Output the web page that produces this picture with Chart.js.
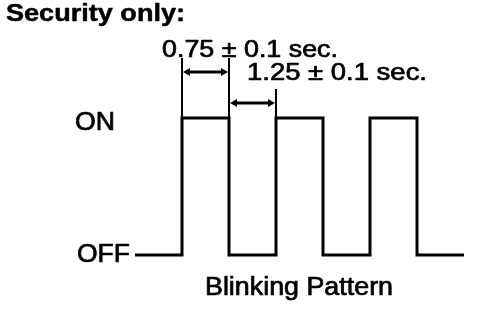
<!DOCTYPE html>
<html>
<head>
<meta charset="utf-8">
<script src="https://cdn.jsdelivr.net/npm/chart.js@4"></script>
<style>
  html, body { margin: 0; padding: 0; background: #fff; }
  #wrap { width: 496px; height: 332px; position: relative; }
</style>
</head>
<body>
<div id="wrap"><canvas id="c"></canvas></div>
<script>
// ---- data ----
const titleText = 'Security only:';
const patternLabel = 'Blinking Pattern';
const stateLabels = ['OFF', 'ON'];
const times = [-1, 0, 1, 2, 3, 4, 5, 6];      // transition instants (diagram units)
const states = [0, 1, 0, 1, 0, 1, 0, 0];       // 0 = OFF, 1 = ON
const dimLabels = ['0.75 \u00b1 0.1 sec.', '1.25 \u00b1 0.1 sec.'];
const dimStart = [0, 1];
const dimEnd = [1, 2];

// ---- drawing helpers ----
function fitText(ctx, text, x, y, w, font, weight) {
  ctx.save();
  ctx.font = font;
  const m = ctx.measureText(text).width;
  ctx.translate(x, y);
  ctx.scale(w / m, 1);
  ctx.textAlign = 'left';
  ctx.textBaseline = 'alphabetic';
  ctx.fillStyle = '#000';
  ctx.strokeStyle = '#000';
  ctx.lineWidth = weight;
  ctx.lineJoin = 'round';
  ctx.fillText(text, 0, 0);
  if (weight > 0) ctx.strokeText(text, 0, 0);
  ctx.restore();
}

function arrowHead(ctx, x, y, dir) {
  const L = 7, H = 4;
  ctx.beginPath();
  ctx.moveTo(x, y);
  ctx.lineTo(x - dir * L, y - H);
  ctx.lineTo(x - dir * L, y + H);
  ctx.closePath();
  ctx.fill();
}

const annot = {
  id: 'annot',
  afterDatasetsDraw(chart) {
    const ctx = chart.ctx;
    const xs = chart.scales.x, ys = chart.scales.y;
    const onY = ys.getPixelForValue(1);
    const arrowYs = [72, 103];
    const extAbove = 14;
    const textPos = [{x: 162, y: 57, w: 176}, {x: 247, y: 80, w: 180}];
    const reg = '24px "Liberation Sans", Arial, sans-serif';
    const reg25 = '25px "Liberation Sans", Arial, sans-serif';
    ctx.save();
    ctx.strokeStyle = '#000';
    ctx.fillStyle = '#000';
    ctx.lineCap = 'butt';
    for (let i = 0; i < dimLabels.length; i++) {
      const x0 = xs.getPixelForValue(dimStart[i]);
      const x1 = xs.getPixelForValue(dimEnd[i]);
      const ay = arrowYs[i];
      // extension lines
      ctx.lineWidth = 2;
      ctx.beginPath();
      ctx.moveTo(x0, onY); ctx.lineTo(x0, ay - extAbove);
      ctx.moveTo(x1, onY); ctx.lineTo(x1, ay - extAbove);
      ctx.stroke();
      // dimension arrow
      ctx.lineWidth = 3;
      ctx.beginPath();
      ctx.moveTo(x0 + 5, ay); ctx.lineTo(x1 - 5, ay);
      ctx.stroke();
      arrowHead(ctx, x0 + 1, ay, -1);
      arrowHead(ctx, x1 - 1, ay, 1);
      fitText(ctx, dimLabels[i], textPos[i].x, textPos[i].y, textPos[i].w, reg, 0.7);
    }
    // state labels
    fitText(ctx, stateLabels[1], 75, 130, 40, reg25, 0.7);
    fitText(ctx, stateLabels[0], 77, 262, 53, reg25, 0.7);
    // title & caption
    fitText(ctx, titleText, 6, 21, 179, 'bold 24px "Liberation Sans", Arial, sans-serif', 0.5);
    fitText(ctx, patternLabel, 205, 295, 188, reg25, 0.7);
    ctx.restore();
  }
};

new Chart(document.getElementById('c'), {
  type: 'line',
  data: {
    datasets: [{
      data: times.map((t, i) => ({x: t, y: states[i]})),
      stepped: true,
      borderColor: '#000',
      borderWidth: 3,
      pointRadius: 0,
      fill: false,
      clip: false,
      borderJoinStyle: 'miter',
      borderCapStyle: 'butt'
    }]
  },
  options: {
    responsive: true,
    maintainAspectRatio: false,
    animation: false,
    events: [],
    layout: { padding: { left: 135, right: 32, top: 118, bottom: 77 } },
    plugins: { legend: { display: false }, tooltip: { enabled: false }, title: { display: false } },
    scales: {
      x: { type: 'linear', min: -1, max: 6, display: false },
      y: { type: 'linear', min: 0, max: 1, display: false }
    }
  },
  plugins: [annot]
});
</script>
</body>
</html>
